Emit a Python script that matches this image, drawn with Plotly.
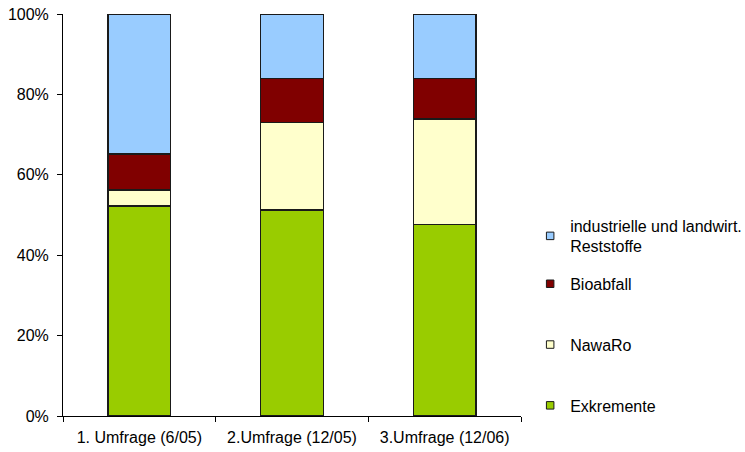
import plotly.graph_objects as go

# Survey rounds on the x axis
categories = ["1. Umfrage (6/05)", "2.Umfrage (12/05)", "3.Umfrage (12/06)"]

# Share of each substrate type per survey (percent, stacks sum to 100)
exkremente = [52.2, 51.2, 47.6]
nawaro = [4.0, 21.8, 26.3]
bioabfall = [9.0, 11.0, 10.1]
reststoffe = [34.8, 16.0, 16.0]

series_names = ["Exkremente", "NawaRo", "Bioabfall", "industrielle und landwirt.<br>Reststoffe"]
series_values = [exkremente, nawaro, bioabfall, reststoffe]
series_colors = ["#99CC00", "#FFFFCC", "#800000", "#99CCFF"]

y_ticks = [0, 20, 40, 60, 80, 100]
y_tick_labels = [f"{v}%" for v in y_ticks]

FONT = "Liberation Sans, Arial, sans-serif"
FS = 16
OUTLINE = "#1a1a1a"

fig = go.Figure()
n = len(series_names)

# Stacked bars (legend entries are drawn by the small square proxies below)
for name, vals, col in zip(series_names, series_values, series_colors):
    fig.add_trace(go.Bar(
        x=categories,
        y=vals,
        name=name,
        showlegend=False,
        marker=dict(color=col, line=dict(color=OUTLINE, width=1.5)),
        hoverinfo="skip",
    ))

# Legend proxies with small square keys; the two-line entry sits in its own legend box
for i, (name, col) in enumerate(zip(series_names, series_colors)):
    fig.add_trace(go.Scatter(
        x=[None], y=[None],
        mode="markers",
        name=name,
        legend="legend2" if i == n - 1 else "legend",
        legendgroup=f"g{i}",
        legendrank=n - i,
        marker=dict(symbol="square", size=7.5, color=col, line=dict(color=OUTLINE, width=1)),
        hoverinfo="skip",
    ))

legend_common = dict(
    x=1.02, xanchor="left",
    yanchor="top",
    font=dict(family=FONT, size=FS, color="black"),
    itemwidth=30,
    bgcolor="rgba(0,0,0,0)",
)

fig.update_layout(
    width=745,
    height=452,
    margin=dict(l=63, r=224, t=14, b=36, autoexpand=False),
    paper_bgcolor="white",
    plot_bgcolor="white",
    font=dict(family=FONT, size=FS, color="black"),
    showlegend=True,
    barmode="stack",
    bargap=0.59,
    legend=dict(y=0.371, traceorder="grouped", tracegroupgap=37, **legend_common),
    legend2=dict(y=0.516, **legend_common),
    xaxis=dict(
        showline=True, linecolor="black", linewidth=1,
        ticks="outside", ticklen=5, tickcolor="black",
        tickson="boundaries",
        ticklabelstandoff=7,
        showgrid=False, automargin=False,
        tickfont=dict(family=FONT, size=FS),
    ),
    yaxis=dict(
        range=[0, 100],
        tickmode="array",
        tickvals=y_ticks,
        ticktext=y_tick_labels,
        showline=True, linecolor="black", linewidth=1,
        ticks="outside", ticklen=5, tickcolor="black",
        ticklabelstandoff=5,
        showgrid=False, zeroline=False, automargin=False,
        tickfont=dict(family=FONT, size=FS),
    ),
)

fig.write_html("out.html")
